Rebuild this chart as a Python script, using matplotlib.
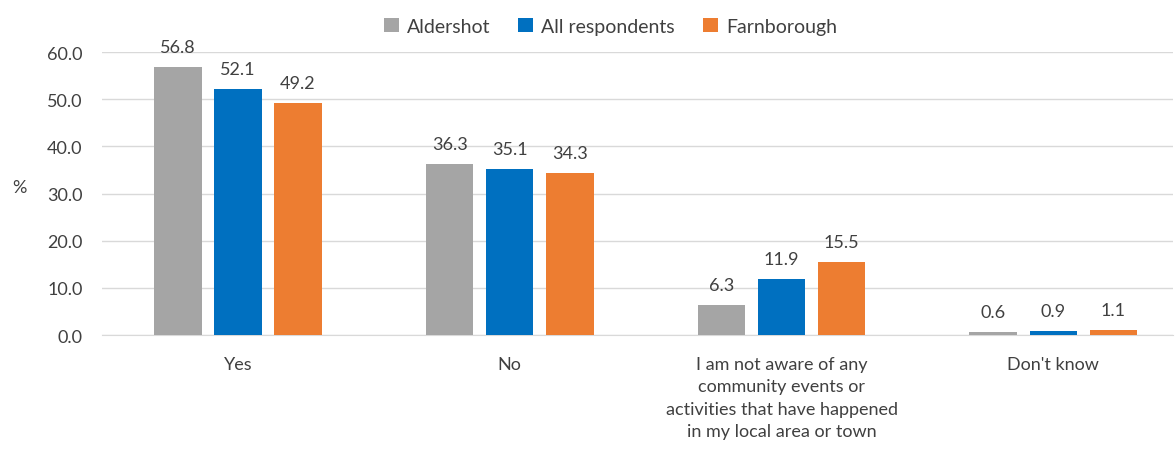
import numpy as np
import matplotlib.pyplot as plt
from matplotlib.patches import Patch

plt.rcParams['font.family'] = ['Lato', 'DejaVu Sans']

# Data
categories = ['Yes', 'No',
              'I am not aware of any\ncommunity events or\nactivities that have happened\nin my local area or town',
              "Don't know"]
series_names = ['Aldershot', 'All respondents', 'Farnborough']
aldershot = [56.8, 36.3, 6.3, 0.6]
all_resp = [52.1, 35.1, 11.9, 0.9]
farnborough = [49.2, 34.3, 15.5, 1.1]
y_ticks = [0, 10, 20, 30, 40, 50, 60]

GRAY = '#A5A5A5'
BLUE = '#0070C0'
ORANGE = '#ED7D31'
TEXT = '#404040'
GRID = '#D9D9D9'

fig = plt.figure(figsize=(11.76, 4.52), dpi=100)
ax = fig.add_axes([0.0867, 0.2566, 0.9107, 0.6261])

x = np.arange(len(categories))
width = 0.175
step = 0.221
series = [aldershot, all_resp, farnborough]
colors = [GRAY, BLUE, ORANGE]

for i, (vals, col) in enumerate(zip(series, colors)):
    pos = x + (i - 1) * step
    bars = ax.bar(pos, vals, width=width, color=col, zorder=3)
    for b, v in zip(bars, vals):
        ax.text(b.get_x() + b.get_width() / 2, v + 2.6, f'{v:.1f}',
                ha='center', va='bottom', fontsize=13, color=TEXT, clip_on=False)

# the chart's category area runs a little past the right edge of the image
ax.set_xlim(-0.5, 3.44)
ax.set_ylim(0, 60)
ax.set_yticks(y_ticks)
ax.set_yticklabels([f'{t:.1f}' for t in y_ticks], fontsize=13, color=TEXT)
ax.set_xticks(x)
ax.set_xticklabels(categories, fontsize=13, color=TEXT, linespacing=1.5)

ax.grid(axis='y', color=GRID, linewidth=1, zorder=0)
ax.set_axisbelow(True)
for s in ['top', 'right', 'left']:
    ax.spines[s].set_visible(False)
ax.spines['bottom'].set_color(GRID)
ax.tick_params(axis='both', length=0)
ax.tick_params(axis='y', pad=14)
ax.tick_params(axis='x', pad=15)

fig.text(0.010, 0.585, '%', fontsize=13, color=TEXT, ha='left', va='center')

handles = [Patch(facecolor=c, edgecolor='none') for c in colors]
fig.legend(handles, series_names, loc='center', bbox_to_anchor=(0.519, 0.940),
           ncol=3, frameon=False, fontsize=14, handlelength=0.78, handleheight=0.78,
           handletextpad=0.4, columnspacing=1.45, labelcolor=TEXT)

fig.savefig('out.png', dpi=100)
